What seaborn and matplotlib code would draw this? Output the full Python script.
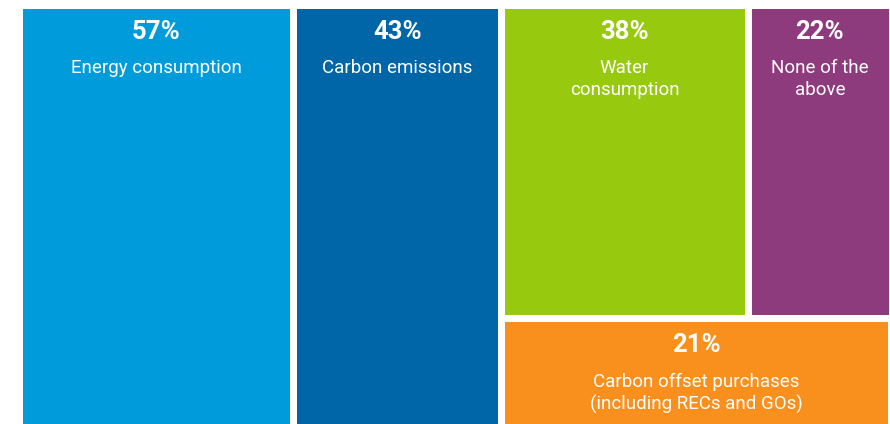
import matplotlib
matplotlib.use('Agg')
import matplotlib.pyplot as plt
import seaborn as sns

# Data
categories = ['Energy consumption', 'Carbon emissions', 'Water\nconsumption',
              'None of the\nabove', 'Carbon offset purchases\n(including RECs and GOs)']
values = [57, 43, 38, 22, 21]
colors = ['#009BDB', '#0066A8', '#97C90F', '#8E3B7E', '#F9901E']

# treemap structure: columns -> rows -> item indices
layout = [[[0]], [[1]], [[2, 3], [4]]]

sns.set_theme(style='white')
plt.rcParams['font.family'] = ['Roboto', 'DejaVu Sans']

W, H = 890, 424
fig = plt.figure(figsize=(W / 100, H / 100), dpi=100)
# axes extended by half the gap so the white edges leave a 7px gap between tiles
# (tiles then run from x=22 to 888 px and from y=8 px down to the bottom)
ax = fig.add_axes([18.5 / W, -3.5 / H, (891.5 - 18.5) / W, 423 / H])

total = sum(values)
x0 = 0
for col in layout:
    col_w = sum(values[i] for row in col for i in row)
    y_top = 1.0
    for row in col:
        row_sum = sum(values[i] for i in row)
        row_h = row_sum / col_w
        x = x0
        for i in row:
            w = values[i] / row_sum * col_w
            ax.bar(x, row_h, width=w, bottom=y_top - row_h, align='edge',
                   color=colors[i], edgecolor='white', linewidth=5.04)
            cx = x + w / 2
            ax.annotate(f'{values[i]}%', xy=(cx, y_top), xytext=(0, -19.5),
                        textcoords='offset points', ha='center', va='center',
                        fontsize=18.5, fontweight='bold', color='white')
            ax.annotate(categories[i], xy=(cx, y_top), xytext=(0, -39.5),
                        textcoords='offset points', ha='center', va='top',
                        fontsize=13.5, color='white', linespacing=1.25)
            x += w
        y_top -= row_h
    x0 += col_w

ax.set_xlim(0, total)
ax.set_ylim(0, 1)
ax.axis('off')

fig.savefig('out.png', dpi=100, facecolor='white')
